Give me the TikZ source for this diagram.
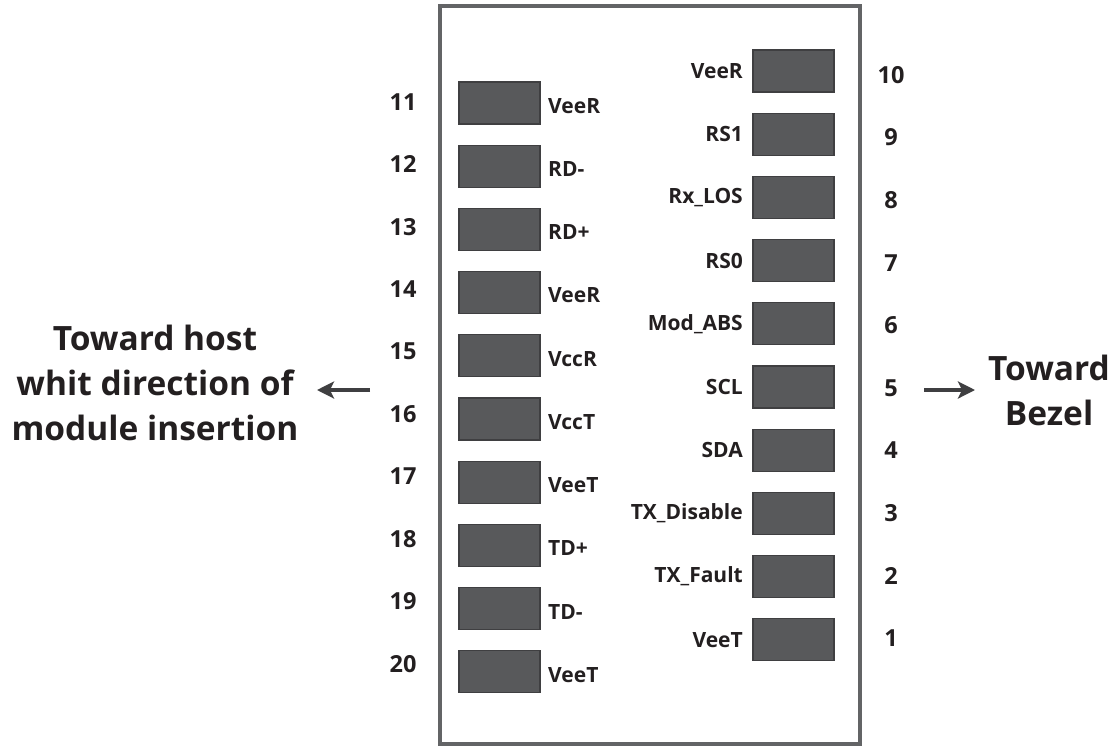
\documentclass[tikz,border=0pt]{standalone}
\usepackage{fontspec}
\setmainfont{Open Sans}
\usetikzlibrary{arrows.meta}
\definecolor{padfill}{HTML}{58595B}
\definecolor{padedge}{HTML}{3F3F41}
\definecolor{boxedge}{HTML}{636466}
\definecolor{txt}{HTML}{231F20}
\tikzset{
  pad/.style={draw=padedge,fill=padfill,line width=1.2pt,minimum width=81pt,minimum height=42pt,inner sep=0pt},
  lbl/.style={font=\bfseries\fontsize{21}{21}\selectfont,text=txt,inner sep=0pt},
  num/.style={font=\bfseries\fontsize{23.5}{23.5}\selectfont,text=txt,inner sep=0pt},
  big/.style={font=\bfseries\fontsize{33.5}{45}\selectfont,text=txt,align=center,inner sep=0pt},
  arr/.style={draw=padedge,line width=3.2pt,-{Stealth[length=17pt,width=17pt,inset=4pt]}}
}
\begin{document}
\begin{tikzpicture}[x=1pt,y=-1pt]
\useasboundingbox (0,0) rectangle (1118,747);
\node[draw=boxedge,line width=4pt,minimum width=420pt,minimum height=738pt,inner sep=0pt] (box) at (650,375) {};
% left pins 11..20
\foreach \i/\n/\t in {0/11/VeeR,1/12/RD-,2/13/RD+,3/14/VeeR,4/15/VccR,5/16/VccT,6/17/VeeT,7/18/TD+,8/19/TD-,9/20/VeeT}{
  \node[pad] (p\n) at (499.5,{103+63.2*\i}) {};
  \node[lbl,anchor=west] (l\n) at (548,{106+63.2*\i}) {\t};
  \node[num] (n\n) at (403,{102+62.4*\i}) {\n};
}
% right pins 10..1
\foreach \i/\n/\t in {0/10/VeeR,1/9/RS1,2/8/Rx\_LOS,3/7/RS0,4/6/Mod\_ABS,5/5/SCL,6/4/SDA,7/3/TX\_Disable,8/2/TX\_Fault,9/1/VeeT}{
  \node[pad] (p\n) at (793.5,{71+63.2*\i}) {};
  \node[lbl,anchor=east] (l\n) at (743,{71+63.2*\i}) {\t};
  \node[num] (n\n) at (891,{75+62.6*\i}) {\n};
}
\node[big] (host) at (155,383) {Toward host\\whit direction of\\module insertion};
\node[big] (bezel) at (1049,390) {Toward\\Bezel};
\coordinate (la) at (370,390);
\coordinate (lb) at (317,390);
\coordinate (ra) at (924,390);
\coordinate (rb) at (975,390);
\draw[arr] (la) -- (lb);
\draw[arr] (ra) -- (rb);
\end{tikzpicture}
\end{document}
